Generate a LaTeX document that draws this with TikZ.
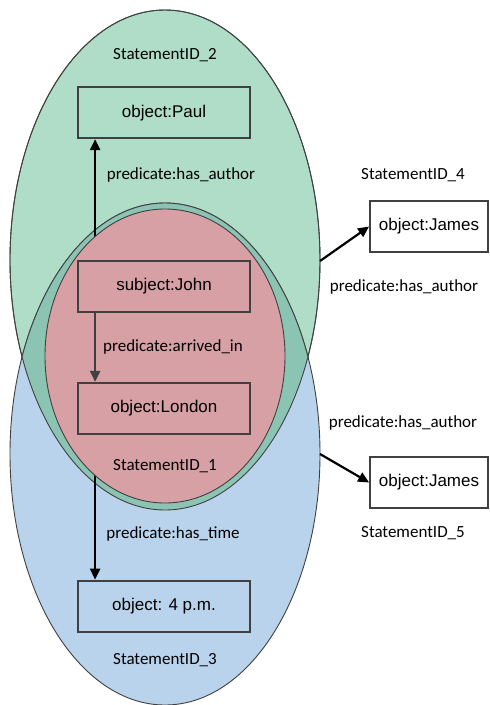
\documentclass[tikz,border=0pt]{standalone}
\usepackage{fontspec}
\setmainfont{Carlito}
\newfontfamily\boxfont{Liberation Sans}
\usetikzlibrary{positioning, arrows.meta}
\definecolor{stgreen}{RGB}{176,221,199}
\definecolor{stblue}{RGB}{186,211,236}
\definecolor{stred}{RGB}{214,160,164}
\definecolor{stlens}{RGB}{140,196,180}
\definecolor{edgegray}{RGB}{64,64,64}
\pgfdeclarelayer{back}
\pgfdeclarelayer{mid}
\pgfsetlayers{back,mid,main}
\tikzset{
x=1pt, y=1pt, % one unit is one pixel of the original
every node/.style={font=\fontsize{17}{20}\selectfont}, % labels in Carlito
}

\begin{document}
\begin{tikzpicture}[
    box/.style = {draw=edgegray, line width=1.8pt, minimum width=172pt, minimum height=51pt, inner sep=0pt, font=\boxfont\fontsize{17}{20}\selectfont},
    link/.style = {line width=2.2pt, -{Triangle[length=11pt,width=10pt]}},
    rim/.style = {draw=edgegray, line width=0.9pt}]
    \useasboundingbox (0,0) rectangle (490,-705);
    \node[box] (john) at (164,-286.5) {subject:John};
    \node[box] (london) [below=69pt of john] {object:London};
    \node[box] (paul) [above=121pt of john] {object:Paul};
    \node[box] (time) [below=145pt of london] {object: 4 p.m.};
    \node[box, minimum width=118pt] (james1) at (429,-226.5) {object:James};
    \node[box, minimum width=118pt] (james2) at (429,-482.5) {object:James};
    \coordinate (g2) at (320,-261);
    \coordinate (b3) at (320,-454);
    % statements as ellipses
    \begin{pgfonlayer}{back}
        \draw[rim, fill=stgreen] (165,-260) ellipse [x radius=155, y radius=250];
        \draw[rim, fill=stblue] (165,-454) ellipse [x radius=155, y radius=251];
        \begin{scope}
            \clip (165,-260) ellipse [x radius=155, y radius=250];
            \draw[rim, fill=stlens] (165,-454) ellipse [x radius=155, y radius=251];
        \end{scope}
        \draw[rim] (165,-260) ellipse [x radius=155, y radius=250];
        \draw[link] ([xshift=18pt]john.north west) -- ([xshift=18pt]paul.south west);
        \draw[link] ([xshift=18pt]london.south west) -- ([xshift=18pt]time.north west);
    \end{pgfonlayer}
    \begin{pgfonlayer}{mid}
        \draw[rim, fill=stred] (165,-356) ellipse [x radius=120, y radius=147];
    \end{pgfonlayer}
    \draw[link, edgegray] ([xshift=18pt]john.south west) -- ([xshift=18pt]london.north west);
    \draw[link] (g2) -- (james1.west);
    \draw[link] (b3) -- (james2.west);
    % labels
    \node (id2) at (165,-55) {StatementID\_2};
    \node (id1) at (165,-466) {StatementID\_1};
    \node (id3) at (165,-660) {StatementID\_3};
    \node (id4) at (413,-175) {StatementID\_4};
    \node (id5) at (413,-533) {StatementID\_5};
    \node (p1) at (181,-175) {predicate:has\_author};
    \node (p2) at (173,-347) {predicate:arrived\_in};
    \node (p3) at (173,-534) {predicate:has\_time};
    \node (p4) at (404,-287) {predicate:has\_author};
    \node (p5) at (403,-423) {predicate:has\_author};
\end{tikzpicture}
\end{document}
